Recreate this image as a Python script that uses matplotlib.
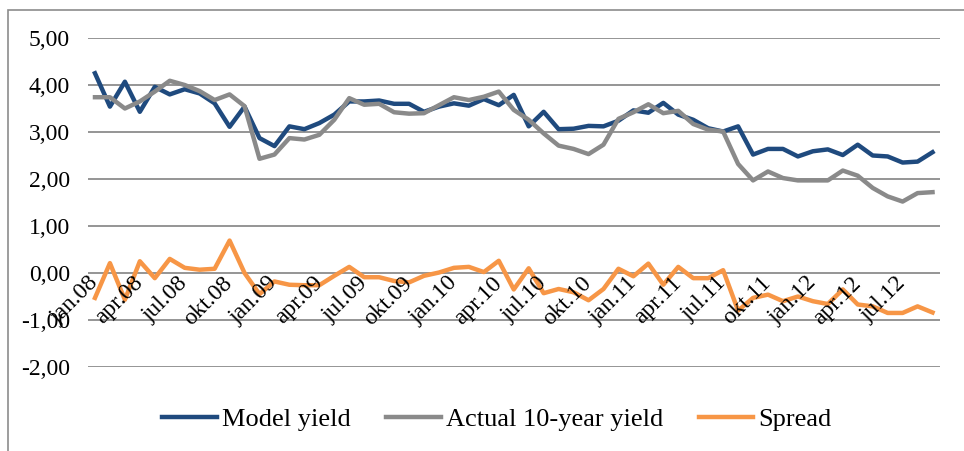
import matplotlib
matplotlib.use("Agg")
import matplotlib.pyplot as plt
from matplotlib.patches import Rectangle

# monthly data jan.08 - sep.12
model_yield = [4.25, 3.54, 4.07, 3.43, 3.96, 3.80, 3.91, 3.82, 3.61, 3.11,
               3.54, 2.87, 2.70, 3.12, 3.06, 3.19, 3.37, 3.65, 3.65, 3.67,
               3.60, 3.60, 3.43, 3.54, 3.61, 3.56, 3.70, 3.57, 3.79, 3.12,
               3.43, 3.06, 3.07, 3.13, 3.12, 3.24, 3.46, 3.41, 3.62, 3.37,
               3.26, 3.08, 3.01, 3.12, 2.52, 2.64, 2.64, 2.48, 2.59, 2.63,
               2.51, 2.73, 2.50, 2.48, 2.35, 2.37, 2.57]
actual_yield = [3.74, 3.74, 3.50, 3.65, 3.86, 4.09, 4.00, 3.87, 3.68, 3.80,
                3.55, 2.43, 2.52, 2.87, 2.84, 2.94, 3.26, 3.72, 3.58, 3.60,
                3.42, 3.39, 3.40, 3.57, 3.74, 3.68, 3.75, 3.86, 3.47, 3.26,
                2.97, 2.71, 2.64, 2.53, 2.73, 3.28, 3.42, 3.59, 3.40, 3.45,
                3.17, 3.05, 3.01, 2.32, 1.97, 2.16, 2.02, 1.97, 1.97, 1.97,
                2.18, 2.07, 1.81, 1.63, 1.52, 1.70, 1.72]
spread = [-0.53, 0.21, -0.57, 0.25, -0.11, 0.30, 0.11, 0.07, 0.09, 0.69,
          0.00, -0.45, -0.18, -0.25, -0.26, -0.26, -0.06, 0.13, -0.09, -0.09,
          -0.17, -0.20, -0.06, 0.01, 0.11, 0.13, 0.02, 0.26, -0.35, 0.10,
          -0.43, -0.34, -0.41, -0.58, -0.34, 0.09, -0.07, 0.20, -0.25, 0.13,
          -0.11, -0.11, 0.06, -0.80, -0.53, -0.46, -0.60, -0.50, -0.60, -0.66,
          -0.35, -0.67, -0.71, -0.85, -0.85, -0.71, -0.84]
tick_labels = ['jan.08', 'apr.08', 'jul.08', 'okt.08', 'jan.09', 'apr.09', 'jul.09',
               'okt.09', 'jan.10', 'apr.10', 'jul.10', 'okt.10', 'jan.11', 'apr.11',
               'jul.11', 'okt.11', 'jan.12', 'apr.12', 'jul.12']
y_ticks = [-2, -1, 0, 1, 2, 3, 4, 5]

plt.rcParams['font.family'] = ['Liberation Serif', 'DejaVu Serif']

fig = plt.figure(figsize=(9.64, 4.51), dpi=100)
ax = fig.add_axes([87.5 / 964, 84 / 451, 852.5 / 964, 329 / 451])

x = list(range(len(model_yield)))
ax.plot(x, model_yield, color='#1F4A7E', lw=3.2, label='Model yield', zorder=2)
ax.plot(x, actual_yield, color='#8A8A8A', lw=3.2, label='Actual 10-year yield', zorder=2)
ax.plot(x, spread, color='#F79646', lw=3.2, label='Spread', zorder=2)

# gridlines under the lines, tick labels (axis) over them
for v in y_ticks:
    ax.axhline(v, color='#8C8C8C', lw=1.3, zorder=1)
ax.set_axisbelow(False)

# x axis crosses at 0 (must come before the tick labels, it resets ticks)
ax.spines['bottom'].set_position(('data', 0))
for s in ax.spines.values():
    s.set_visible(False)

ax.set_xlim(-0.5, len(x) - 0.5)
ax.set_ylim(-2, 5)
ax.set_yticks(y_ticks)
ax.set_yticklabels([('%.2f' % v).replace('.', ',') for v in y_ticks])

ax.set_xticks(x[::3])
ax.set_xticklabels(tick_labels, rotation=45, ha='right', va='center',
                   rotation_mode='anchor')
ax.tick_params(axis='both', length=0, labelsize=17)
ax.tick_params(axis='y', pad=12.5)
ax.tick_params(axis='x', pad=5)

fig.legend(loc='center', bbox_to_anchor=(497 / 964, 1 - 419 / 451), ncol=3,
           frameon=False, fontsize=19, handlelength=2.05, handletextpad=0.2,
           columnspacing=1.36)

fig.patches.append(Rectangle((8 / 964, -0.1), 1.2, 1.1 - 10 / 451, fill=False,
                             edgecolor='#8C8C8C', lw=1.2, transform=fig.transFigure))

fig.savefig('out.png', dpi=100)
